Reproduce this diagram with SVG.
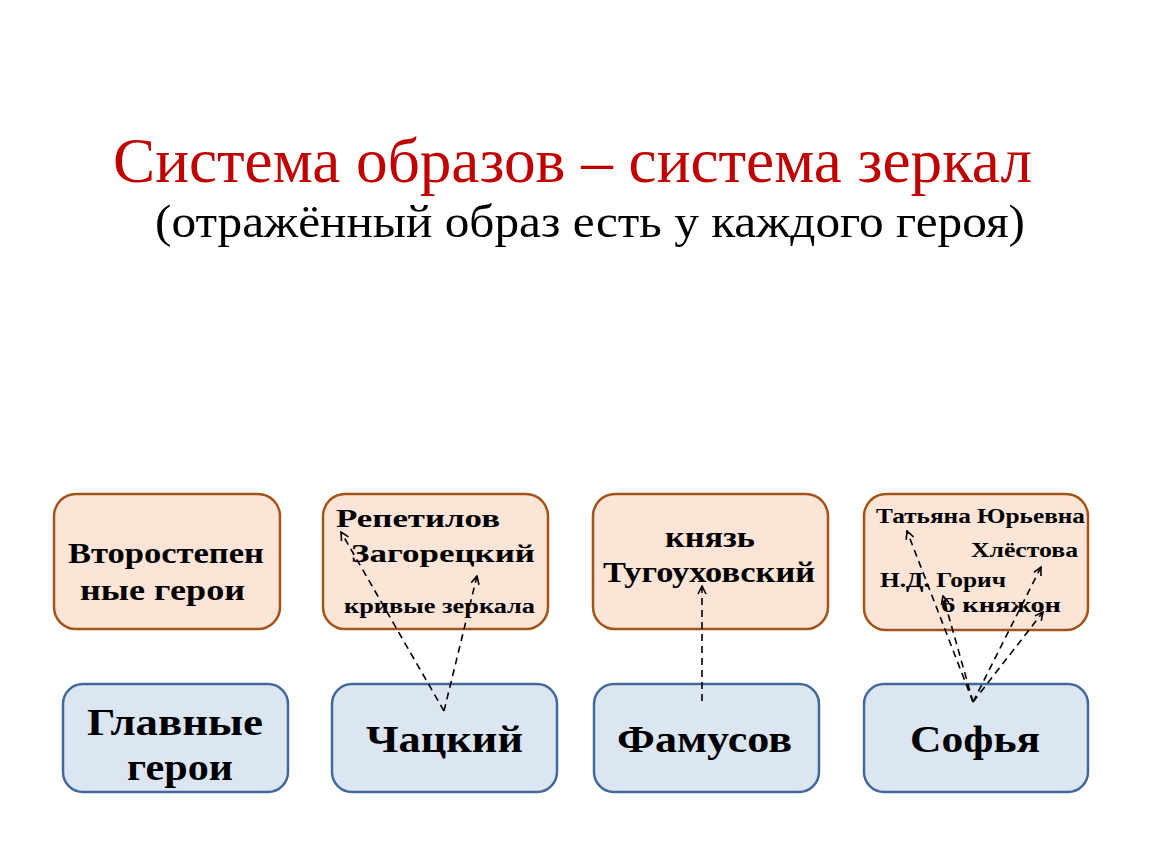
<svg xmlns="http://www.w3.org/2000/svg" width="1150" height="864" viewBox="0 0 1150 864">
<defs>
<style>
.sec{fill:#fce4d6;stroke:#a3541a;stroke-width:2.5}
.main{fill:#dce6f2;stroke:#41699a;stroke-width:2.5}
.t{font-family:"Liberation Serif","DejaVu Serif",serif;font-weight:bold;fill:#000}
.conn{fill:none;stroke:#000;stroke-width:1.6;stroke-dasharray:7 5;marker-end:url(#arr)}
</style>
<marker id="arr" viewBox="0 0 10 10" refX="9" refY="5" markerWidth="10" markerHeight="10" markerUnits="userSpaceOnUse" orient="auto">
<path d="M1,1 L9,5 L1,9" fill="none" stroke="#000" stroke-width="1.6"/>
</marker>
</defs>
<rect width="1150" height="864" fill="#fff"/>
<g id="title">
<text x="113" y="182" font-family="Liberation Serif,serif" font-size="64" fill="#c00000" textLength="919" lengthAdjust="spacingAndGlyphs">Система образов – система зеркал</text>
<text x="155" y="237" font-family="Liberation Serif,serif" font-size="47" fill="#000" textLength="870" lengthAdjust="spacingAndGlyphs">(отражённый образ есть у каждого героя)</text>
</g>
<g id="sec-label">
<rect class="sec" x="54" y="494" width="226" height="135" rx="22"/>
<text class="t" x="68" y="563" font-size="29" textLength="196" lengthAdjust="spacingAndGlyphs">Второстепен</text>
<text class="t" x="80" y="600" font-size="29" textLength="165" lengthAdjust="spacingAndGlyphs">ные герои</text>
</g>
<g id="sec-chatsky">
<rect class="sec" x="323" y="494" width="225" height="135" rx="22"/>
<text class="t" x="336" y="527" font-size="26" textLength="164" lengthAdjust="spacingAndGlyphs">Репетилов</text>
<text class="t" x="351" y="562" font-size="26" textLength="184" lengthAdjust="spacingAndGlyphs">Загорецкий</text>
<text class="t" x="344" y="613" font-size="20" textLength="191" lengthAdjust="spacingAndGlyphs">кривые зеркала</text>
</g>
<g id="sec-famusov">
<rect class="sec" x="593" y="494" width="235" height="135" rx="22"/>
<text class="t" x="665" y="547" font-size="29" textLength="90" lengthAdjust="spacingAndGlyphs">князь</text>
<text class="t" x="603" y="582" font-size="29" textLength="212" lengthAdjust="spacingAndGlyphs">Тугоуховский</text>
</g>
<g id="sec-sofia">
<rect class="sec" x="864" y="494" width="224" height="136" rx="22"/>
<text class="t" x="876" y="523" font-size="21" textLength="209" lengthAdjust="spacingAndGlyphs">Татьяна Юрьевна</text>
<text class="t" x="971" y="557" font-size="21" textLength="107" lengthAdjust="spacingAndGlyphs">Хлёстова</text>
<text class="t" x="880" y="587" font-size="21" textLength="126" lengthAdjust="spacingAndGlyphs">Н.Д. Горич</text>
<text class="t" x="941" y="612" font-size="21" textLength="120" lengthAdjust="spacingAndGlyphs">6 княжон</text>
</g>
<g id="main-label">
<rect class="main" x="63" y="684" width="225" height="108" rx="20"/>
<text class="t" x="87" y="735" font-size="37" textLength="176" lengthAdjust="spacingAndGlyphs">Главные</text>
<text class="t" x="127" y="780" font-size="37" textLength="106" lengthAdjust="spacingAndGlyphs">герои</text>
</g>
<g id="main-chatsky">
<rect class="main" x="332" y="684" width="225" height="108" rx="20"/>
<text class="t" x="366" y="752" font-size="37" textLength="157" lengthAdjust="spacingAndGlyphs">Чацкий</text>
</g>
<g id="main-famusov">
<rect class="main" x="594" y="684" width="225" height="108" rx="20"/>
<text class="t" x="617" y="752" font-size="37" textLength="175" lengthAdjust="spacingAndGlyphs">Фамусов</text>
</g>
<g id="main-sofia">
<rect class="main" x="864" y="684" width="224" height="108" rx="20"/>
<text class="t" x="910" y="752" font-size="37" textLength="130" lengthAdjust="spacingAndGlyphs">Софья</text>
</g>
<g id="connectors">
<line class="conn" x1="444" y1="711" x2="341" y2="532"/>
<line class="conn" x1="444" y1="711" x2="477" y2="576"/>
<line class="conn" x1="702" y1="701" x2="702" y2="586"/>
<line class="conn" x1="973" y1="702" x2="907" y2="531"/>
<line class="conn" x1="973" y1="702" x2="943" y2="596"/>
<line class="conn" x1="973" y1="702" x2="1041" y2="567"/>
<line class="conn" x1="973" y1="702" x2="1043" y2="612"/>
</g>
</svg>
